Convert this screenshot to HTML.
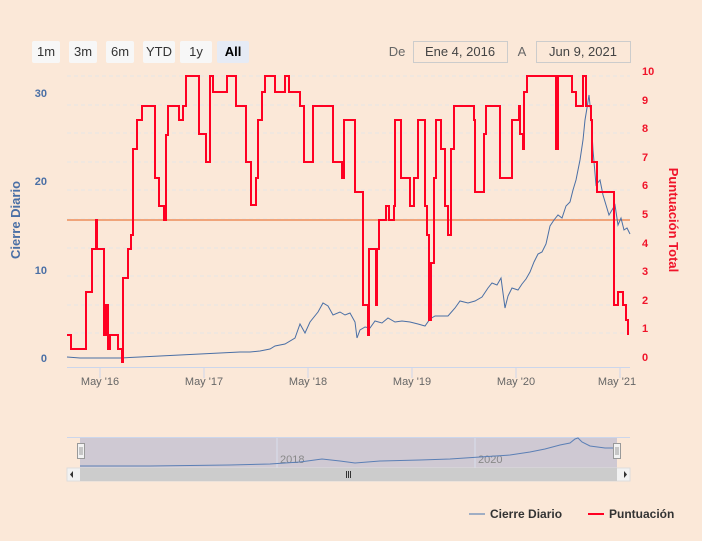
<!DOCTYPE html>
<html><head><meta charset="utf-8"><style>
body{margin:0;background:#fbe8d8;}
svg{display:block;font-family:"Liberation Sans",sans-serif;}
</style></head><body>
<svg width="702" height="541" viewBox="0 0 702 541" xmlns="http://www.w3.org/2000/svg">
<rect width="702" height="541" fill="#fbe8d8"/>
<!-- buttons -->
<g font-size="13" fill="#333" text-anchor="middle">
<rect x="32" y="41" width="28" height="22" rx="2" fill="#f7f7f7"/><text x="46" y="56">1m</text>
<rect x="69" y="41" width="28" height="22" rx="2" fill="#f7f7f7"/><text x="83" y="56">3m</text>
<rect x="106" y="41" width="28" height="22" rx="2" fill="#f7f7f7"/><text x="120" y="56">6m</text>
<rect x="143" y="41" width="32" height="22" rx="2" fill="#f7f7f7"/><text x="159" y="56">YTD</text>
<rect x="180" y="41" width="32" height="22" rx="2" fill="#f7f7f7"/><text x="196" y="56">1y</text>
<rect x="217" y="41" width="32" height="22" rx="2" fill="#e6ebf5"/><text x="233" y="56" font-weight="bold" fill="#000">All</text>
<text x="397" y="56" fill="#666">De</text>
<rect x="413.5" y="41.5" width="94" height="21" fill="none" stroke="#ccc"/><text x="460" y="56" fill="#444">Ene 4, 2016</text>
<text x="522" y="56" fill="#666">A</text>
<rect x="536.5" y="41.5" width="94" height="21" fill="none" stroke="#ccc"/><text x="583" y="56" fill="#444">Jun 9, 2021</text>
</g>
<!-- grid -->
<g stroke="#e6e6e6" stroke-dasharray="4,3">
<line x1="67" x2="630" y1="76" y2="76"/><line x1="67" x2="630" y1="105" y2="105"/>
<line x1="67" x2="630" y1="133" y2="133"/><line x1="67" x2="630" y1="162" y2="162"/>
<line x1="67" x2="630" y1="190" y2="190"/><line x1="67" x2="630" y1="219" y2="219"/>
<line x1="67" x2="630" y1="248" y2="248"/><line x1="67" x2="630" y1="276" y2="276"/>
<line x1="67" x2="630" y1="305" y2="305"/><line x1="67" x2="630" y1="333" y2="333"/>
</g>
<g font-size="11" font-weight="bold" fill="#4a6fa5" text-anchor="end">
<text x="47" y="97">30</text><text x="47" y="185">20</text><text x="47" y="274">10</text><text x="47" y="362">0</text>
</g>
<text transform="translate(20,220) rotate(-90)" font-size="13" font-weight="bold" fill="#4a6fa5" text-anchor="middle">Cierre Diario</text>
<g font-size="11" font-weight="bold" fill="#f0142a">
<text x="642" y="75">10</text><text x="642" y="104">9</text><text x="642" y="132">8</text><text x="642" y="161">7</text><text x="642" y="189">6</text><text x="642" y="218">5</text><text x="642" y="247">4</text><text x="642" y="275">3</text><text x="642" y="304">2</text><text x="642" y="332">1</text><text x="642" y="361">0</text>
</g>
<text transform="translate(669,220) rotate(90)" font-size="13" font-weight="bold" fill="#f0142a" text-anchor="middle">Puntuación Total</text>
<!-- x axis -->
<line x1="67" x2="630" y1="367.5" y2="367.5" stroke="#ccd6eb"/>
<g stroke="#ccd6eb"><line x1="100" x2="100" y1="368" y2="378"/><line x1="204" x2="204" y1="368" y2="378"/><line x1="308" x2="308" y1="368" y2="378"/><line x1="412" x2="412" y1="368" y2="378"/><line x1="516" x2="516" y1="368" y2="378"/><line x1="620" x2="620" y1="368" y2="378"/></g>
<g font-size="11" fill="#666" text-anchor="middle">
<text x="100" y="385">May '16</text><text x="204" y="385">May '17</text><text x="308" y="385">May '18</text><text x="412" y="385">May '19</text><text x="516" y="385">May '20</text><text x="617" y="385">May '21</text>
</g>
<!-- plot line -->
<line x1="67" x2="630" y1="220" y2="220" stroke="#f0a47a" stroke-width="2"/>
<!-- blue -->
<polyline fill="none" stroke="#4a6fa5" stroke-width="1" points="67,357 80,358 100,358 120,358 140,357 160,356 180,355 200,354 220,353 240,352 250,352 260,351 270,349 275,346 285,344 295,338 300,324 305,333 310,322 318,312 323,303 328,306 333,315 340,312 345,315 350,313 355,322 357,338 360,330 365,327 370,328 375,321 382,323 388,318 395,322 402,321 410,322 418,324 425,326 430,319 435,316 442,316 448,316 455,308 460,301 468,303 475,301 482,297 488,288 492,283 497,285 501,278 505,308 508,296 512,288 518,290 522,284 526,279 530,272 534,262 538,254 542,252 546,244 550,226 554,220 558,215 562,218 566,206 570,202 573,190 576,180 580,160 583,140 585,120 587,108 589,95 591,115 593,150 596,185 600,180 603,195 606,205 609,215 612,210 615,205 618,225 621,218 624,230 627,228 630,234"/>
<!-- red -->
<polyline fill="none" stroke="#ff0022" stroke-width="2" points="67,335 71,335 71,349 86,349 86,292 92,292 92,249 96,249 96,220 97,220 97,249 104,249 104,335 106,335 106,305 108,305 108,349 110,349 110,335 118,335 118,349 122,349 122,362 123,362 123,278 128,278 128,249 131,249 131,235 133,235 133,149 137,149 137,120 142,120 142,106 155,106 155,178 159,178 159,206 164,206 164,220 166,220 166,135 168,135 168,106 179,106 179,120 183,120 183,106 186,106 186,76 199,76 199,134 206,134 206,162 210,162 210,76 213,76 213,92 227,92 227,76 236,76 236,106 246,106 246,162 251,162 251,205 256,205 256,178 258,178 258,120 262,120 262,92 265,92 265,76 275,76 275,92 285,92 285,76 289,76 289,92 300,92 300,106 304,106 304,162 313,162 313,106 333,106 333,162 342,162 342,178 344,178 344,120 355,120 355,192 363,192 363,305 368,305 368,335 369,335 369,249 376,249 376,305 377,305 377,249 379,249 379,220 386,220 386,206 389,206 389,220 394,220 394,206 395,206 395,120 401,120 401,178 410,178 410,206 414,206 414,178 418,178 418,120 425,120 425,206 427,206 427,235 429,235 429,320 431,320 431,263 434,263 434,178 436,178 436,120 441,120 441,149 445,149 445,206 448,206 448,235 451,235 451,149 454,149 454,106 474,106 474,120 475,120 475,192 484,192 484,134 486,134 486,106 500,106 500,178 512,178 512,120 519,120 519,106 520,106 520,134 523,134 523,149 524,149 524,92 527,92 527,76 556,76 556,149 558,149 558,76 572,76 572,92 576,92 576,106 583,106 583,76 586,76 586,106 591,106 591,120 592,120 592,162 597,162 597,192 602,192 602,192 614,192 614,305 618,305 618,292 623,292 623,305 626,305 626,320 628,320 628,335"/>
<!-- navigator -->
<line x1="67" x2="630" y1="437.5" y2="437.5" stroke="#ccd6eb"/>
<rect x="80" y="438" width="537" height="30" fill="#cfc9d3"/>
<line x1="277" x2="277" y1="438" y2="468" stroke="#d8dfee"/>
<line x1="475" x2="475" y1="438" y2="468" stroke="#d8dfee"/>
<text x="280" y="463" font-size="11" fill="#888">2018</text>
<text x="478" y="463" font-size="11" fill="#888">2020</text>
<polyline fill="none" stroke="#5b7fb5" stroke-width="1" points="80,466 150,466 230,465 270,464 300,462 322,459 340,461 355,463 380,461 420,460 450,459 480,457 510,455 530,452 545,449 560,445 570,443 575,439 578,438 582,442 590,446 605,448 613,448 617,452"/>
<rect x="77.5" y="443.5" width="7" height="15" fill="#f2f2f2" stroke="#999"/>
<line x1="80" x2="80" y1="447" y2="455" stroke="#999"/><line x1="82" x2="82" y1="447" y2="455" stroke="#999"/>
<rect x="613.5" y="443.5" width="7" height="15" fill="#f2f2f2" stroke="#999"/>
<line x1="616" x2="616" y1="447" y2="455" stroke="#999"/><line x1="618" x2="618" y1="447" y2="455" stroke="#999"/>
<rect x="67" y="468" width="563" height="13" fill="#f2f2f2" stroke="#ddd"/>
<rect x="80" y="468" width="537" height="13" fill="#cccccc"/>
<path d="M73,471 L73,478 L70,474.5 Z" fill="#333"/>
<path d="M624,471 L624,478 L627,474.5 Z" fill="#333"/>
<g stroke="#333"><line x1="346.5" x2="346.5" y1="471" y2="478"/><line x1="348.5" x2="348.5" y1="471" y2="478"/><line x1="350.5" x2="350.5" y1="471" y2="478"/></g>
<!-- legend -->
<line x1="469" x2="485" y1="514" y2="514" stroke="#a0aec4" stroke-width="2"/>
<text x="490" y="518" font-size="12" font-weight="bold" fill="#333">Cierre Diario</text>
<line x1="588" x2="604" y1="514" y2="514" stroke="#ff0022" stroke-width="2"/>
<text x="609" y="518" font-size="12" font-weight="bold" fill="#333">Puntuación</text>
</svg>
</body></html>
